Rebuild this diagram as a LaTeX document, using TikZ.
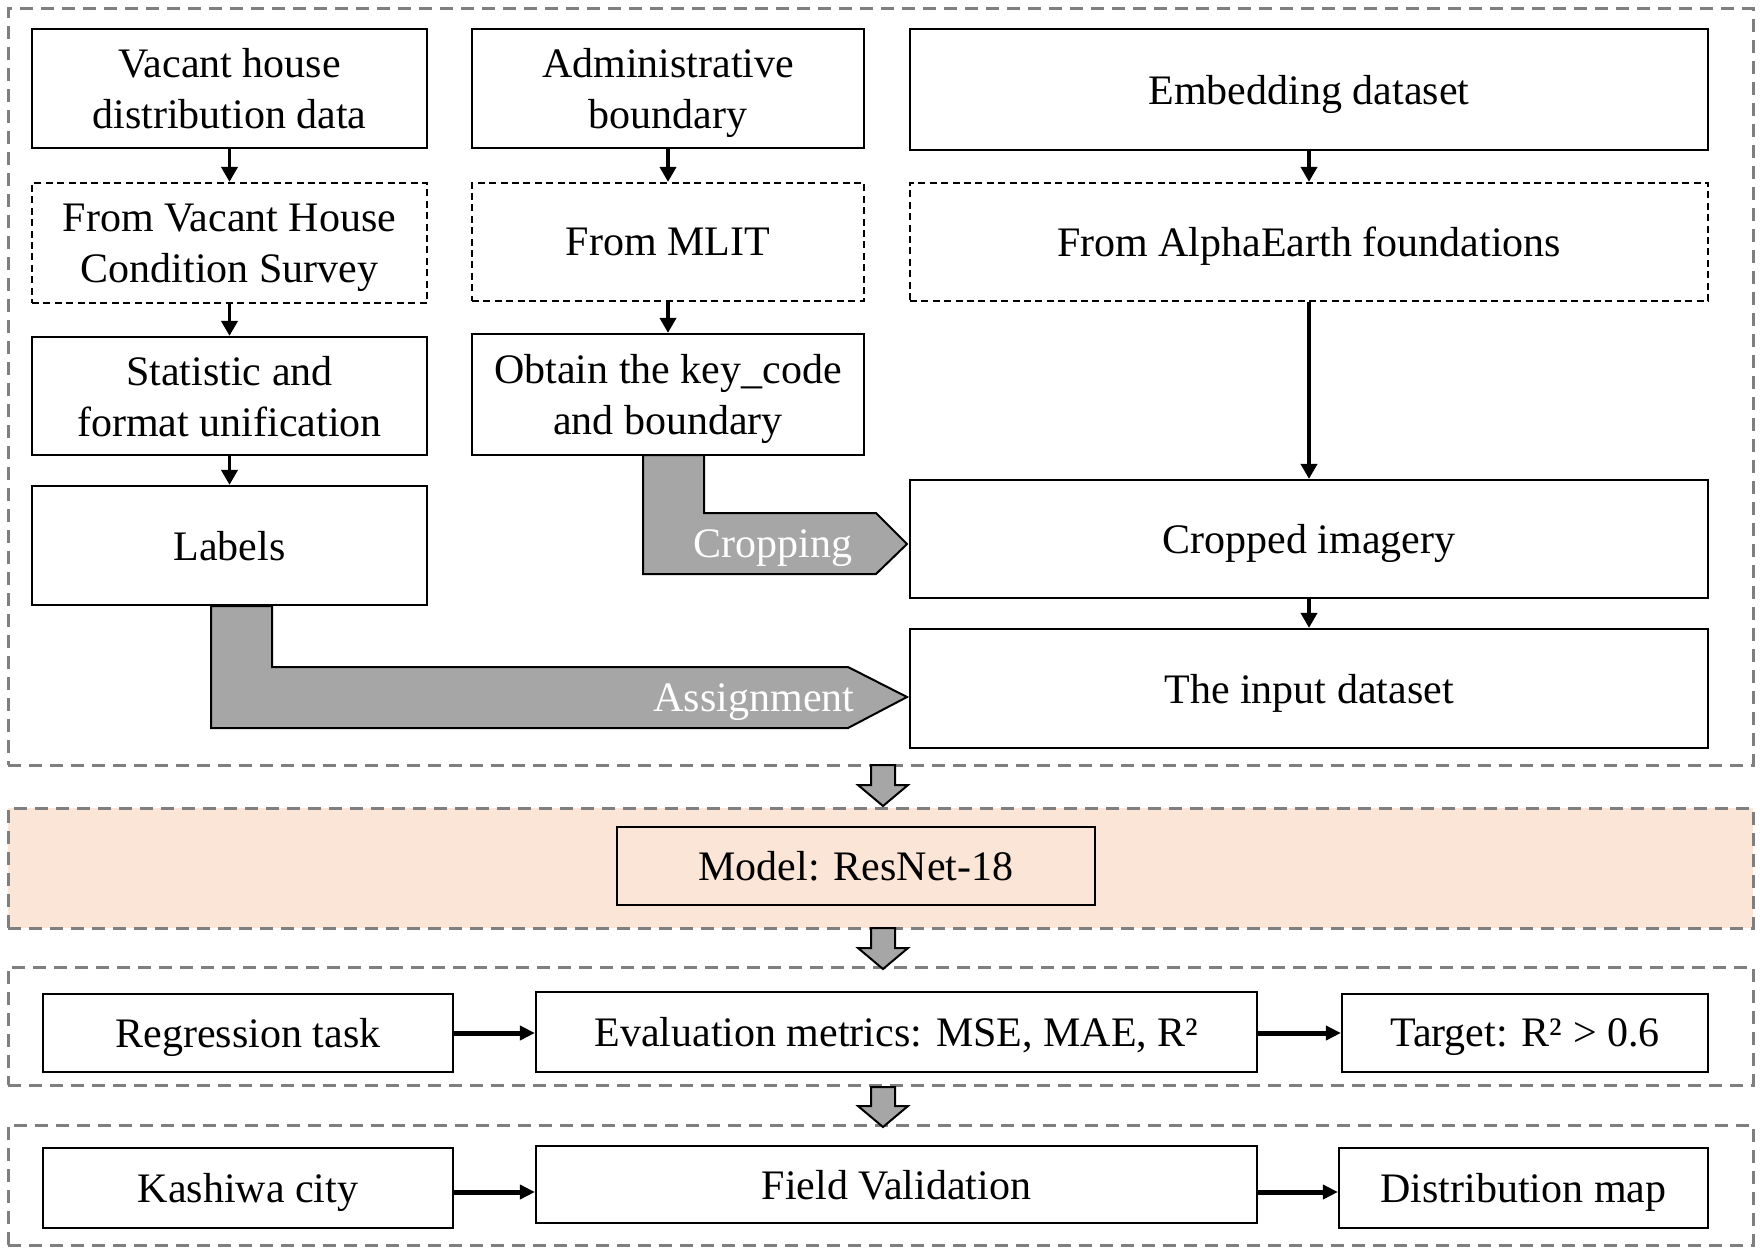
\documentclass[tikz,border=0pt]{standalone}
\usepackage{fontspec}
\setmainfont{Liberation Serif}
\usetikzlibrary{arrows.meta}
\definecolor{secgray}{HTML}{7F7F7F}
\definecolor{arrgray}{HTML}{A6A6A6}
\definecolor{peach}{HTML}{FBE5D6}
\tikzset{
  box/.style={draw, line width=1.1pt, fill=white, align=center, inner sep=0pt,
    text depth=0pt, font=\fontsize{21}{25.5}\selectfont},
  dbox/.style={box, dash pattern=on 3.5pt off 2.2pt},
  secbox/.style={draw=secgray, line width=1.5pt, dash pattern=on 6.5pt off 4pt, inner sep=0pt},
  arr/.style={line width=1.9pt, -{Triangle[length=7.5pt,width=8pt]}},
  harr/.style={line width=2.5pt, -{Triangle[length=7.5pt,width=7pt]}},
  blk/.style={fill=arrgray, draw=black, line width=1pt, line join=miter},
  wlabel/.style={text=white, font=\fontsize{21}{25.5}\selectfont, inner sep=0pt, text depth=0pt},
}
\begin{document}
\begin{tikzpicture}[x=0.5pt, y=-0.5pt]
\useasboundingbox (0,0) rectangle (1760,1247);

% sections
\node[secbox, minimum width=872.5pt, minimum height=378pt] (s1) at (880.5,387) {};
\node[secbox, fill=peach, minimum width=872.5pt, minimum height=60pt] (s2) at (880.5,868) {};
\node[secbox, minimum width=872.5pt, minimum height=59pt] (s3) at (880.5,1026) {};
\node[secbox, minimum width=872.5pt, minimum height=60pt] (s4) at (880.5,1185) {};

% top section boxes
\node[box, minimum width=197.5pt, minimum height=59.5pt] (vh) at (229.5,88.5) {Vacant house\\distribution data};
\node[dbox, minimum width=197.5pt, minimum height=60pt] (fvh) at (229.5,243) {From Vacant House\\Condition Survey};
\node[box, minimum width=197.5pt, minimum height=59pt] (stat) at (229.5,396) {Statistic and\\format unification};
\node[box, minimum width=197.5pt, minimum height=59.5pt] (lab) at (229.5,545.5) {Labels};

\node[box, minimum width=196pt, minimum height=59.5pt] (adm) at (668,88.5) {Administrative\\boundary};
\node[dbox, minimum width=196pt, minimum height=59pt] (mlit) at (668,242) {From MLIT};
\node[box, minimum width=196pt, minimum height=60.5pt] (obt) at (668,394.5) {Obtain the key\_code\\and boundary};

\node[box, minimum width=399pt, minimum height=60.5pt] (emb) at (1309,89.5) {Embedding dataset};
\node[dbox, minimum width=399pt, minimum height=59pt] (alpha) at (1309,242) {From AlphaEarth foundations};
\node[box, minimum width=399pt, minimum height=59pt] (crop) at (1309,539) {Cropped imagery};
\node[box, minimum width=399pt, minimum height=59.5pt] (inp) at (1309,688.5) {The input dataset};

% vertical arrows
\draw[arr] (vh.south) -- (fvh.north);
\draw[arr] (fvh.south) -- (stat.north);
\draw[arr] (stat.south) -- (lab.north);
\draw[arr] (adm.south) -- (mlit.north);
\draw[arr] (mlit.south) -- (obt.north);
\draw[arr] (emb.south) -- (alpha.north);
\draw[arr] (alpha.south) -- (crop.north);
\draw[arr] (crop.south) -- (inp.north);

% cropping L-arrow
\draw[blk] (643,455) -- (704,455) -- (704,513) -- (876,513) -- (907,544) -- (876,574) -- (643,574) -- cycle;
\node[wlabel] (tcrop) at (773,544) {Cropping};
% assignment L-arrow
\draw[blk] (211,606) -- (272,606) -- (272,667) -- (848,667) -- (907,697) -- (848,728) -- (211,728) -- cycle;
\node[wlabel] (tassign) at (754,698) {Assignment};

% model
\node[box, fill=peach, minimum width=239pt, minimum height=39pt] (model) at (856,866) {Model: ResNet-18};

% block arrows between sections
\draw[blk] (871,765) -- (895,765) -- (895,785) -- (908,785) -- (883,806) -- (858,785) -- (871,785) -- cycle;
\draw[blk] (871,928) -- (895,928) -- (895,948) -- (908,948) -- (883,969) -- (858,948) -- (871,948) -- cycle;
\draw[blk] (871,1087) -- (895,1087) -- (895,1106) -- (908,1106) -- (883,1127) -- (858,1106) -- (871,1106) -- cycle;

% row 3
\node[box, minimum width=205pt, minimum height=39pt] (reg) at (248,1033) {Regression task};
\node[box, minimum width=360.5pt, minimum height=40pt] (eval) at (896.5,1032) {Evaluation metrics: MSE, MAE, R²};
\node[box, minimum width=183pt, minimum height=39pt] (tgt) at (1525,1033) {Target: R² > 0.6};
\draw[harr] (reg.east) -- (reg.east -| eval.west);
\draw[harr] (eval.east |- tgt.west) -- (tgt.west);

% row 4
\node[box, minimum width=205pt, minimum height=40pt] (kash) at (248,1188) {Kashiwa city};
\node[box, minimum width=360.5pt, minimum height=38.5pt] (field) at (896.5,1184.5) {Field Validation};
\node[box, minimum width=184.5pt, minimum height=40pt] (dist) at (1523.5,1188) {Distribution map};
\draw[harr] ([yshift=-2pt]kash.east) -- ([yshift=-2pt]kash.east -| field.west);
\draw[harr] ([yshift=-2pt]field.east |- dist.west) -- ([yshift=-2pt]dist.west);
\end{tikzpicture}
\end{document}
